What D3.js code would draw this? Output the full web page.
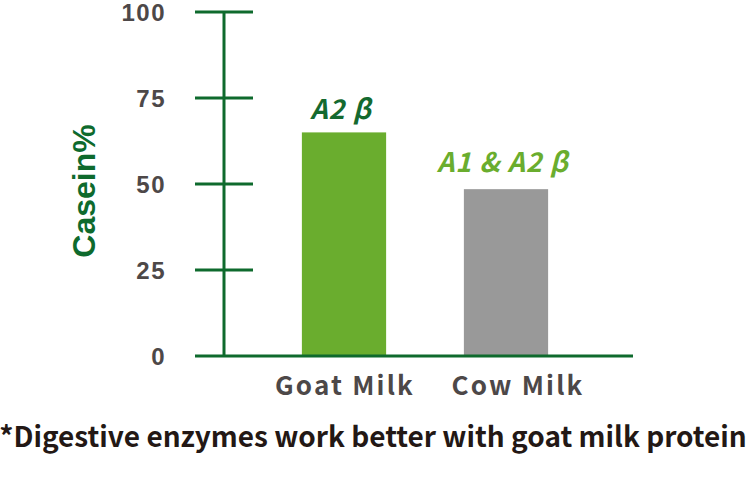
<!DOCTYPE html>
<html><head><meta charset="utf-8">
<script src="https://cdn.jsdelivr.net/npm/d3@7"></script>
<style>html,body{margin:0;padding:0;background:#fff;}svg{display:block;}</style>
</head><body>
<script>
const categories = ["Goat Milk", "Cow Milk"];
const values = [65, 48.5];
const barLabels = ["A2 β", "A1 & A2 β"];
const yTicks = [0, 25, 50, 75, 100];
const yTitle = "Casein%";
const footnote = "*Digestive enzymes work better with goat milk protein";

const W = 746, H = 478;
const svg = d3.select("body").append("svg").attr("width", W).attr("height", H);

const y = d3.scaleLinear().domain([0, 100]).range([356, 12]);
const x = d3.scaleBand().domain(categories).range([263, 587]).paddingInner(0.48).paddingOuter(0.24);

const barColors = ["#6aad2e", "#999999"];
const labelColors = ["#14692f", "#6aad2e"];
const labelDy = [13, 17];
const axisColor = "#0e6a2d";

// bars
svg.selectAll("rect.bar").data(values).join("rect")
  .attr("x", (d, i) => x(categories[i]))
  .attr("y", d => y(d))
  .attr("width", x.bandwidth())
  .attr("height", d => y(0) - y(d))
  .attr("fill", (d, i) => barColors[i]);

// y axis labels
const yAxis = d3.axisLeft(y).tickValues(yTicks).tickSize(0).tickPadding(58);
const ga = svg.append("g").attr("transform", "translate(224,0)").call(yAxis);
ga.select(".domain").remove();
ga.selectAll(".tick line").remove();
ga.selectAll("text").attr("fill", "#4d4848").attr("font-family", "Arial, 'Liberation Sans', sans-serif")
  .attr("font-weight", "bold").attr("font-size", 24).attr("letter-spacing", 1.5).attr("dy", "0.36em");
// tick marks
svg.selectAll("line.tk").data(yTicks.filter(t => t > 0)).join("line")
  .attr("x1", 195).attr("x2", 253)
  .attr("y1", d => y(d)).attr("y2", d => y(d))
  .attr("stroke", axisColor).attr("stroke-width", 3);
// vertical axis line
svg.append("line").attr("x1", 224).attr("x2", 224).attr("y1", y(100)).attr("y2", y(0))
  .attr("stroke", axisColor).attr("stroke-width", 3);
// baseline
svg.append("line").attr("x1", 195).attr("x2", 633).attr("y1", y(0)).attr("y2", y(0))
  .attr("stroke", axisColor).attr("stroke-width", 3);

// y title
svg.append("text").attr("transform", "translate(95,191) rotate(-90)")
  .attr("text-anchor", "middle").attr("fill", axisColor)
  .attr("font-family", "Arial, 'Liberation Sans', sans-serif").attr("font-weight", "bold")
  .attr("font-size", 32).text(yTitle);

// bar labels
svg.selectAll("text.bl").data(values).join("text")
  .attr("x", (d, i) => x(categories[i]) + x.bandwidth() / 2 - 3)
  .attr("y", (d, i) => y(d) - labelDy[i])
  .attr("text-anchor", "middle")
  .attr("fill", (d, i) => labelColors[i])
  .attr("font-family", "'Noto Sans CJK JP', 'Noto Sans', sans-serif")
  .attr("font-weight", "bold").attr("font-style", "italic")
  .attr("font-size", 27).attr("letter-spacing", 1)
  .text((d, i) => barLabels[i]);

// category labels
const catOffset = [1, 12];
svg.selectAll("text.cat").data(categories).join("text")
  .attr("x", (d, i) => x(d) + x.bandwidth() / 2 + catOffset[i])
  .attr("y", 395)
  .attr("text-anchor", "middle")
  .attr("fill", "#4d4848")
  .attr("font-family", "'Noto Sans CJK JP', 'Noto Sans', sans-serif")
  .attr("font-weight", "bold").attr("font-size", 26)
  .attr("letter-spacing", 2.2)
  .text(d => d);

// footnote
svg.append("text").attr("x", W / 2).attr("y", 447).attr("text-anchor", "middle")
  .attr("fill", "#231815")
  .attr("font-family", "'Noto Sans CJK JP', 'Noto Sans', sans-serif")
  .attr("font-weight", "bold").attr("font-size", 28)
  .text(footnote);
</script>
</body></html>
